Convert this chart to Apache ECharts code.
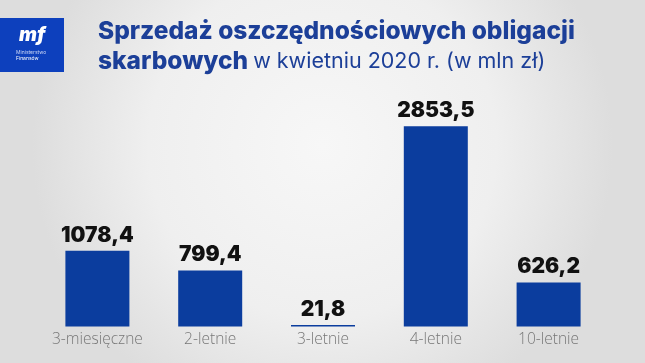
<!DOCTYPE html>
<html>
<head>
<meta charset="utf-8">
<script src="https://cdn.jsdelivr.net/npm/echarts@6/dist/echarts.min.js"></script>
<style>
html,body{margin:0;padding:0;}
#c{width:645px;height:363px;}
</style>
</head>
<body>
<div id="c"></div>
<script>
const categories = ['3-miesięczne', '2-letnie', '3-letnie', '4-letnie', '10-letnie'];
const sales = [1078.4, 799.4, 21.8, 2853.5, 626.2];
const valueLabels = ['1078,4', '799,4', '21,8', '2853,5', '626,2'];

const chart = echarts.init(document.getElementById('c'));
chart.setOption({
  backgroundColor: {
    type: 'radial', x: 0.5, y: 0.4, r: 0.8,
    colorStops: [
      {offset: 0, color: '#f7f7f7'},
      {offset: 0.6, color: '#efefef'},
      {offset: 1, color: '#dddddd'}
    ]
  },
  animation: false,
  title: {
    left: 93, top: 12,
    text: '{b|Sprzedaż oszczędnościowych obligacji}\n{b|skarbowych} {r|w kwietniu 2020 r. (w mln zł)}',
    textStyle: {
      rich: {
        b: {fontFamily: 'Inter', fontWeight: 800, fontSize: 24.5, color: '#1c3f98', lineHeight: 30},
        r: {fontFamily: 'Inter', fontWeight: 400, fontSize: 21.5, color: '#1c3f98', lineHeight: 30}
      }
    }
  },
  graphic: [
    {type: 'rect', shape: {x: 0, y: 18, width: 64, height: 54}, style: {fill: '#0d40bd'}},
    {type: 'text', left: 19, top: 26, style: {text: 'mf', fill: '#ffffff', font: 'italic 900 19px Inter'}},
    {type: 'text', left: 16, top: 50, style: {text: 'Ministerstwo', fill: '#c9d4f5', font: '5px Inter'}},
    {type: 'text', left: 16, top: 56, style: {text: 'Finansów', fill: '#ffffff', font: '5px Inter'}}
  ],
  grid: {left: 41, right: 40, top: 116, bottom: 36.5},
  xAxis: {
    type: 'category', data: categories,
    axisLine: {show: false}, axisTick: {show: false},
    axisLabel: {interval: 0, hideOverlap: false, color: '#777777', fontFamily: 'Open Sans', fontWeight: 300, fontSize: 15.5, margin: 5}
  },
  yAxis: {type: 'value', min: 0, max: 3000, show: false, splitLine: {show: false}},
  series: [{
    type: 'bar', data: sales, barWidth: 64,
    itemStyle: {color: '#0b3d9e'},
    label: {
      show: true, position: 'top', distance: 5,
      formatter: p => valueLabels[p.dataIndex],
      fontFamily: 'Inter', fontWeight: 900, fontSize: 21, color: '#111111'
    }
  }]
});
</script>
</body>
</html>
